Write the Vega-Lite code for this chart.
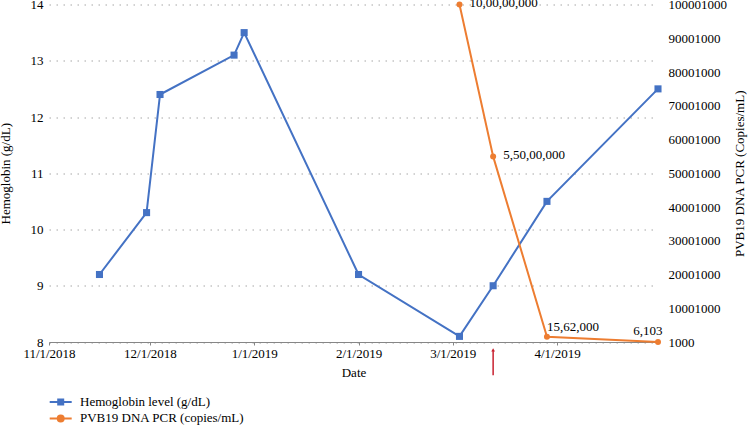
{
  "$schema": "https://vega.github.io/schema/vega-lite/v6.json",
  "width": 609,
  "height": 337.5,
  "autosize": {"type": "none"},
  "padding": {"left": 49, "top": 4.5, "right": 92, "bottom": 83},
  "background": "white",
  "config": {
    "view": {"stroke": null},
    "font": "Liberation Serif",
    "axis": {
      "labelFont": "Liberation Serif",
      "titleFont": "Liberation Serif",
      "labelFontSize": 13,
      "titleFontSize": 13,
      "titleFontWeight": "normal",
      "labelColor": "#000",
      "titleColor": "#000"
    },
    "legend": {
      "labelFont": "Liberation Serif",
      "labelFontSize": 13,
      "labelColor": "#000",
      "orient": "none",
      "legendX": 5.2,
      "legendY": 391,
      "symbolSize": 100,
      "symbolStrokeWidth": 2,
      "symbolOpacity": 1,
      "labelOffset": 12.8,
      "rowPadding": 1.4,
      "padding": 0,
      "direction": "vertical",
      "labelLimit": 400
    }
  },
  "datasets": {
    "hb": [
      {"date": "2018-11-16", "value": 9.2, "series": "Hemoglobin level (g/dL)"},
      {"date": "2018-11-30", "value": 10.3, "series": "Hemoglobin level (g/dL)"},
      {"date": "2018-12-04", "value": 12.4, "series": "Hemoglobin level (g/dL)"},
      {"date": "2018-12-26", "value": 13.1, "series": "Hemoglobin level (g/dL)"},
      {"date": "2018-12-29", "value": 13.5, "series": "Hemoglobin level (g/dL)"},
      {"date": "2019-02-01", "value": 9.2, "series": "Hemoglobin level (g/dL)"},
      {"date": "2019-03-03", "value": 8.1, "series": "Hemoglobin level (g/dL)"},
      {"date": "2019-03-13", "value": 9.0, "series": "Hemoglobin level (g/dL)"},
      {"date": "2019-03-29", "value": 10.5, "series": "Hemoglobin level (g/dL)"},
      {"date": "2019-05-01", "value": 12.5, "series": "Hemoglobin level (g/dL)"}
    ],
    "pcr": [
      {"date": "2019-03-03", "value": 100000000, "label": "10,00,00,000", "pos": "a", "series": "PVB19 DNA PCR (copies/mL)"},
      {"date": "2019-03-13", "value": 55000000, "label": "5,50,00,000", "pos": "a", "series": "PVB19 DNA PCR (copies/mL)"},
      {"date": "2019-03-29", "value": 1562000, "label": "15,62,000", "pos": "b", "series": "PVB19 DNA PCR (copies/mL)"},
      {"date": "2019-05-01", "value": 6103, "label": "6,103", "pos": "c", "series": "PVB19 DNA PCR (copies/mL)"}
    ],
    "arrow": [
      {"date": "2019-03-13", "lo": 7.41, "hi": 7.86}
    ]
  },
  "encoding": {
    "x": {
      "field": "date",
      "type": "temporal",
      "scale": {
        "type": "utc",
        "domain": [
          {"year": 2018, "month": 11, "date": 1, "utc": true},
          {"year": 2019, "month": 5, "date": 1, "utc": true}
        ]
      },
      "axis": {
        "title": "Date",
        "values": [
          {"year": 2018, "month": 11, "date": 1, "utc": true},
          {"year": 2018, "month": 12, "date": 1, "utc": true},
          {"year": 2019, "month": 1, "date": 1, "utc": true},
          {"year": 2019, "month": 2, "date": 1, "utc": true},
          {"year": 2019, "month": 3, "date": 1, "utc": true},
          {"year": 2019, "month": 4, "date": 1, "utc": true}
        ],
        "format": "%-m/%-d/%Y",
        "grid": false,
        "tickSize": 3,
        "tickColor": "#868686",
        "domainColor": "#868686",
        "labelPadding": 2,
        "titlePadding": 6,
        "labelFlush": false,
        "labelOverlap": false
      }
    }
  },
  "layer": [
    {
      "layer": [
        {
          "data": {"name": "hb"},
          "mark": {"type": "line", "color": "#4472C4", "strokeWidth": 2},
          "encoding": {
            "y": {
              "field": "value",
              "type": "quantitative",
              "title": "Hemoglobin (g/dL)",
              "scale": {"domain": [8, 14], "zero": false, "nice": false},
              "axis": {
                "values": [8, 9, 10, 11, 12, 13, 14],
                "format": "d",
                "grid": true,
                "gridColor": "#a6a6a6",
                "gridDash": [1.5, 5.5],
                "gridWidth": 1,
                "domain": false,
                "ticks": false,
                "labelPadding": 6,
                "titlePadding": 18
              }
            }
          }
        },
        {
          "data": {"name": "hb"},
          "mark": {"type": "point", "shape": "square", "filled": true, "size": 50, "opacity": 1, "color": "#4472C4"},
          "encoding": {
            "y": {"field": "value", "type": "quantitative", "title": "Hemoglobin (g/dL)"}
          }
        },
        {
          "data": {"name": "hb"},
          "transform": [{"filter": "datum.value < 0"}],
          "mark": {"type": "point", "filled": true, "opacity": 1},
          "encoding": {
            "y": {"field": "value", "type": "quantitative", "title": "Hemoglobin (g/dL)"},
            "fill": {
              "field": "series",
              "type": "nominal",
              "scale": {"domain": ["Hemoglobin level (g/dL)", "PVB19 DNA PCR (copies/mL)"], "range": ["#4472C4", "#ED7D31"]},
              "legend": {"title": null}
            },
            "stroke": {
              "field": "series",
              "type": "nominal",
              "scale": {"domain": ["Hemoglobin level (g/dL)", "PVB19 DNA PCR (copies/mL)"], "range": ["#4472C4", "#ED7D31"]},
              "legend": {"title": null}
            },
            "shape": {
              "field": "series",
              "type": "nominal",
              "scale": {
                "domain": ["Hemoglobin level (g/dL)", "PVB19 DNA PCR (copies/mL)"],
                "range": ["M-2.2,0H2.2M-0.5,-0.5H0.5V0.5H-0.5Z", "M-2.2,0H2.2M0.6,0A0.6,0.6 0 1 1 -0.6,0A0.6,0.6 0 1 1 0.6,0Z"]
              },
              "legend": {"title": null}
            }
          }
        },
        {
          "data": {"name": "arrow"},
          "mark": {"type": "rule", "color": "#C8202F", "strokeWidth": 1.5},
          "encoding": {
            "y": {"field": "lo", "type": "quantitative", "title": "Hemoglobin (g/dL)"},
            "y2": {"field": "hi"}
          }
        },
        {
          "data": {"name": "arrow"},
          "mark": {"type": "point", "shape": "triangle-up", "filled": true, "size": 14, "color": "#C8202F", "opacity": 1},
          "encoding": {
            "y": {"field": "hi", "type": "quantitative", "title": "Hemoglobin (g/dL)"}
          }
        }
      ]
    },
    {
      "data": {"name": "pcr"},
      "encoding": {
        "y": {
          "field": "value",
          "type": "quantitative",
          "title": "PVB19 DNA PCR (Copies/mL)",
          "scale": {"domain": [1000, 100001000], "zero": false, "nice": false},
          "axis": {
            "orient": "right",
            "values": [1000, 10001000, 20001000, 30001000, 40001000, 50001000, 60001000, 70001000, 80001000, 90001000, 100001000],
            "format": "d",
            "grid": false,
            "domain": false,
            "ticks": false,
            "labelPadding": 10,
            "titlePadding": 20,
            "titleAngle": 270
          }
        }
      },
      "layer": [
        {
          "mark": {"type": "line", "color": "#ED7D31", "strokeWidth": 2}
        },
        {
          "mark": {"type": "point", "shape": "circle", "filled": true, "size": 36, "opacity": 1, "color": "#ED7D31"}
        },
        {
          "transform": [{"filter": "datum.pos === 'a'"}],
          "mark": {"type": "text", "align": "left", "baseline": "middle", "dx": 10, "dy": -1.3, "fontSize": 13, "font": "Liberation Serif", "color": "#000"},
          "encoding": {"text": {"field": "label"}}
        },
        {
          "transform": [{"filter": "datum.pos === 'b'"}],
          "mark": {"type": "text", "align": "left", "baseline": "middle", "dx": 0, "dy": -9.5, "fontSize": 13, "font": "Liberation Serif", "color": "#000"},
          "encoding": {"text": {"field": "label"}}
        },
        {
          "transform": [{"filter": "datum.pos === 'c'"}],
          "mark": {"type": "text", "align": "right", "baseline": "middle", "dx": 4.6, "dy": -10.7, "fontSize": 13, "font": "Liberation Serif", "color": "#000"},
          "encoding": {"text": {"field": "label"}}
        }
      ]
    }
  ],
  "resolve": {"scale": {"y": "independent"}}
}
